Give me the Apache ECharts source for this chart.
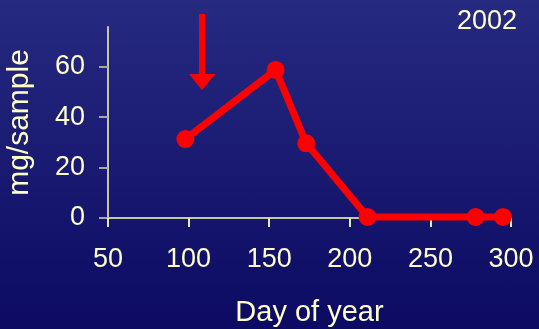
<!DOCTYPE html>
<html>
<head>
<meta charset="utf-8">
<script src="https://cdn.jsdelivr.net/npm/echarts@6/dist/echarts.min.js"></script>
<style>
html,body{margin:0;padding:0;}
#c{width:539px;height:329px;background:linear-gradient(#272a81,#0c0a62);}
</style>
</head>
<body>
<div id="c"></div>
<script>
const days = [98, 154, 173, 211, 278, 295];
const values = [31.3, 58.7, 29.6, 0.4, 0.4, 0.4];
const yTicks = [0, 20, 40, 60];
const xTicks = [50, 100, 150, 200, 250, 300];
const yearLabel = '2002';
const xName = 'Day of year';
const yName = 'mg/sample';

const txt = '#ffffcc';
const font = 'Liberation Sans, Arial, sans-serif';
const chart = echarts.init(document.getElementById('c'), null, {renderer: 'canvas'});
chart.setOption({
  animation: false,
  backgroundColor: 'transparent',
  grid: {left: 108, right: 28, top: 27, bottom: 111, containLabel: false, outerBoundsMode: 'none'},
  xAxis: {
    type: 'value', min: 50, max: 300, interval: 50,
    name: xName, nameLocation: 'middle', nameGap: 80,
    nameTextStyle: {color: txt, fontSize: 29, fontFamily: font},
    axisLine: {lineStyle: {color: '#c4c4a8', width: 2}},
    axisTick: {show: true, inside: false, length: 9, lineStyle: {color: '#e8e8a8', width: 2}, customValues: xTicks},
    axisLabel: {color: txt, fontSize: 27, fontFamily: font, margin: 28, customValues: xTicks},
    splitLine: {show: false}
  },
  yAxis: {
    type: 'value', min: 0, max: 75.7,
    name: yName, nameLocation: 'middle', nameGap: 73, nameRotate: 90,
    nameTextStyle: {color: txt, fontSize: 30, fontFamily: font},
    axisLine: {show: true, lineStyle: {color: '#c4c4a8', width: 2}},
    axisTick: {show: true, inside: false, length: 9, lineStyle: {color: '#a8a8a0', width: 2}, customValues: yTicks},
    axisLabel: {color: txt, fontSize: 27, fontFamily: font, margin: 23, customValues: yTicks},
    splitLine: {show: false}
  },
  graphic: [
    {type: 'text', right: 22, top: 8, style: {text: yearLabel, fill: txt, fontSize: 27, fontFamily: font}},
    {type: 'rect', shape: {x: 199, y: 14, width: 6, height: 61}, style: {fill: '#ff0000'}},
    {type: 'polygon', shape: {points: [[189, 74], [215.5, 74], [202, 90]]}, style: {fill: '#ff0000'}}
  ],
  series: [{
    type: 'line',
    data: days.map((d, i) => [d, values[i]]),
    symbol: 'circle', symbolSize: 18,
    lineStyle: {color: '#ff0000', width: 7},
    itemStyle: {color: '#ff0000'},
    clip: false
  }]
});
</script>
</body>
</html>
